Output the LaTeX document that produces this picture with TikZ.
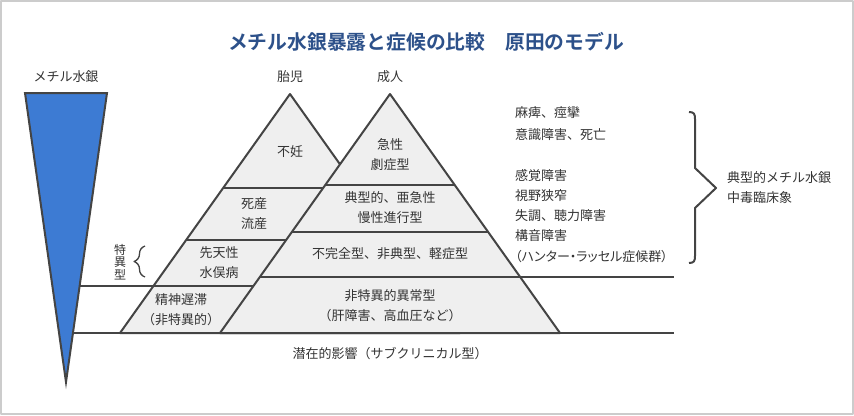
\documentclass[tikz,border=0pt]{standalone}
\usepackage{fontspec}
\setmainfont{Noto Sans CJK JP}[BoldFont={Noto Sans CJK JP Bold}]
\usetikzlibrary{decorations.pathreplacing}
\definecolor{edgegray}{HTML}{444444}
\definecolor{textgray}{HTML}{333333}
\definecolor{pyrfill}{HTML}{EFEFEF}
\definecolor{hgblue}{HTML}{3D7BD3}
\definecolor{titleblue}{HTML}{2D518A}
\definecolor{framegray}{HTML}{CCCCCC}

\begin{document}
\begin{tikzpicture}[
    x=1pt, y=-1pt,
    line join=round,
    edge/.style={draw=edgegray, line width=2pt},
    row/.style={edgegray, line width=2pt},
    txt/.style={text=textgray, font=\fontsize{13}{20}\selectfont, inner sep=0pt, align=center},
    item/.style={txt, anchor=west}
  ]
  \useasboundingbox (0,0) rectangle (854,415);
  % 枠
  \draw[framegray, line width=2pt] (1,1) rectangle (853,414);

  % タイトル
  \node[font=\fontsize{19.8}{22}\selectfont\bfseries, text=titleblue, inner sep=0pt] (title) at (426,42) {メチル水銀暴露と症候の比較　原田のモデル};

  % メチル水銀
  \node[txt] (hg) at (66,77) {メチル水銀};
  \draw[edge, fill=hgblue, line join=miter] (25,93) -- (107,93) -- (66,382) -- cycle;

  % 胎児のピラミッド
  \node[txt] (fetus) at (290,77) {胎児};
  \draw[edge, fill=pyrfill] (290,94) -- (460,333) -- (120,333) -- cycle;
  \draw[row] (223.1,188) -- (330,188);
  \draw[row] (186.2,240) -- (300,240);
  \draw[row] (79.6,286) -- (262,286);

  % 成人のピラミッド
  \node[txt] (adult) at (390,77) {成人};
  \draw[edge, fill=pyrfill] (390,94) -- (560,333) -- (220,333) -- cycle;
  \draw[row] (325.3,185) -- (454.7,185);
  \draw[row] (291.8,232) -- (488.2,232);
  \draw[row] (259.8,277) -- (674,277);
  \draw[row] (73,333) -- (674,333);

  % ピラミッド内の文字
  \node[txt] (infert) at (290,152) {不妊};
  \node[txt] (stillb) at (254,214) {死産\\流産};
  \node[txt] (congen) at (219,263) {先天性\\水俣病};
  \node[txt] (retard) at (181,310) {精神遅滞\\（非特異的）};
  \node[txt] (acute) at (390,155) {急性\\劇症型};
  \node[txt] (typical) at (390,208) {典型的、亜急性\\慢性進行型};
  \node[txt] (incompl) at (390,254) {不完全型、非典型、軽症型};
  \node[txt] (nonspec) at (390,306) {非特異的異常型\\（肝障害、高血圧など）};
  \node[txt] (latent) at (390,354) {潜在的影響（サブクリニカル型）};

  % 特異型
  \node[txt, font=\fontsize{12}{12.5}\selectfont] (specific) at (120,262) {特\\異\\型};
  \draw[edgegray, line width=1.3pt, decorate, decoration={brace, amplitude=11pt}] (145,277) -- (145,246);

  % 症候の一覧
  \node[item] (sym1) at (515,113) {麻痺、痙攣};
  \node[item] (sym2) at (515,135) {意識障害、死亡};
  \node[item] (sym3) at (515,176) {感覚障害};
  \node[item] (sym4) at (515,196) {視野狭窄};
  \node[item] (sym5) at (515,216) {失調、聴力障害};
  \node[item] (sym6) at (515,236) {構音障害};
  \node[item, font=\fontsize{13}{20}\selectfont\addfontfeature{RawFeature=+palt}] (sym7) at (515,257) {（ハンター・ラッセル症候群）};

  % 右の括弧
  \draw[edgegray, line width=2pt] (689,112) .. controls (694,112) and (695,114) .. (695,119) -- (695,168) -- (716,188) -- (695,208) -- (695,256) .. controls (695,261) and (694,263) .. (689,263);
  \node[item, align=left] (classic) at (727,188) {典型的メチル水銀\\中毒臨床象};
\end{tikzpicture}
\end{document}
